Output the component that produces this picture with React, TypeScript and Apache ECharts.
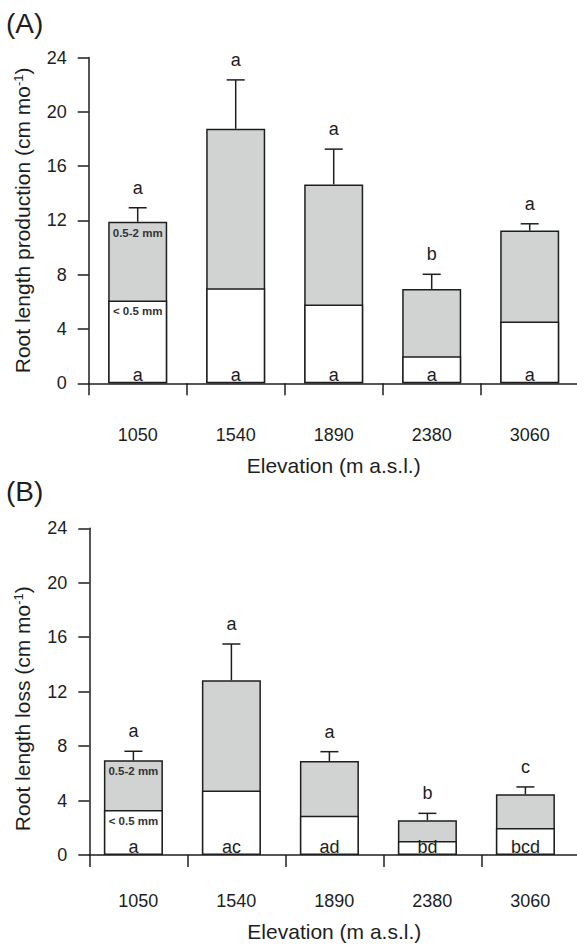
import React, { useEffect, useRef } from 'react';
import * as echarts from 'echarts';

const elevations = ['1050', '1540', '1890', '2380', '3060'];

// (A) Root length production (cm mo-1)
const prodFine = [6.1, 7.0, 5.8, 2.0, 4.55];
const prodCoarse = [5.8, 11.75, 8.85, 4.95, 6.7];
const prodSE = [1.03, 3.6, 2.6, 1.08, 0.5];
const prodTopLetters = ['a', 'a', 'a', 'b', 'a'];
const prodFineLetters = ['a', 'a', 'a', 'a', 'a'];

// (B) Root length loss (cm mo-1)
const lossFine = [3.31, 4.73, 2.89, 1.03, 1.98];
const lossCoarse = [3.65, 8.11, 4.02, 1.52, 2.48];
const lossSE = [0.66, 2.66, 0.68, 0.51, 0.54];
const lossTopLetters = ['a', 'a', 'a', 'b', 'c'];
const lossFineLetters = ['a', 'ac', 'ad', 'bd', 'bcd'];

const yMin = 0;
const yMax = 24;
const yInterval = 4;
const coarseLabel = '0.5-2 mm';
const fineLabel = '< 0.5 mm';
const xName = 'Elevation (m a.s.l.)';

const FONT = '"Liberation Sans", Arial, Helvetica, sans-serif';
const INK = '#1e1e1e';
const GREY = '#d1d3d2';

type Panel = {
  fine: number[];
  coarse: number[];
  se: number[];
  top: string[];
  bottom: string[];
  yName: string;
  grid: { left: number; top: number; width: number; height: number };
  shift: number;
  labelMargin: number;
  nameGap: number;
  yNamePad: number[];
};

const panels: Panel[] = [
  {
    fine: prodFine, coarse: prodCoarse, se: prodSE, top: prodTopLetters, bottom: prodFineLetters,
    yName: 'Root length production (cm mo',
    grid: { left: 88.7, top: 57.5, width: 490, height: 325.8 },
    shift: 0, labelMargin: 43, nameGap: 72, yNamePad: [0, 0, 0, 0],
  },
  {
    fine: lossFine, coarse: lossCoarse, se: lossSE, top: lossTopLetters, bottom: lossFineLetters,
    yName: 'Root length loss (cm mo',
    grid: { left: 89.3, top: 528.3, width: 490, height: 326.7 },
    shift: 0.05, labelMargin: 37, nameGap: 66, yNamePad: [0, 34, 0, 0],
  },
];

function buildOption() {
  const grids: any[] = [];
  const xAxes: any[] = [];
  const yAxes: any[] = [];
  const series: any[] = [];

  panels.forEach((p, pi) => {
    grids.push({ ...p.grid, containLabel: false, outerBoundsMode: 'none' });
    xAxes.push({
      type: 'category',
      gridIndex: pi,
      data: elevations,
      boundaryGap: true,
      position: 'bottom',
      axisLine: { show: true, onZero: false, lineStyle: { color: INK, width: 1.5 } },
      axisTick: { show: true, length: 12, inside: false, alignWithLabel: false, lineStyle: { color: INK, width: 1.5 } },
      axisLabel: { fontSize: 18, color: INK, margin: p.labelMargin, fontFamily: FONT },
      splitLine: { show: false },
      name: xName,
      nameLocation: 'middle',
      nameGap: p.nameGap,
      nameTextStyle: { fontSize: 21, color: INK, fontFamily: FONT },
    });
    xAxes.push({
      type: 'value',
      gridIndex: pi,
      show: false,
      min: -0.5 + p.shift,
      max: 4.5 + p.shift,
      axisLine: { onZero: false },
      splitLine: { show: false },
    });
    yAxes.push({
      type: 'value',
      gridIndex: pi,
      min: yMin,
      max: yMax,
      interval: yInterval,
      position: 'left',
      axisLine: { show: true, onZero: false, lineStyle: { color: INK, width: 1.5 } },
      axisTick: { show: true, length: 11, inside: false, lineStyle: { color: INK, width: 1.5 } },
      axisLabel: { fontSize: 18, color: INK, margin: 22, fontFamily: FONT },
      splitLine: { show: false },
      name: '{n|' + p.yName + '}{s|-1}{n|)}',
      nameLocation: 'middle',
      nameGap: 56,
      nameTextStyle: {
        fontSize: 21,
        color: INK,
        fontFamily: FONT,
        padding: p.yNamePad,
        rich: {
          n: { fontSize: 21, color: INK, fontFamily: FONT },
          s: { fontSize: 13, color: INK, fontFamily: FONT, verticalAlign: 'top' },
        },
      },
    });

    const xi = pi * 2 + 1;
    const totals = p.fine.map((f, i) => f + p.coarse[i]);
    const barLabel = (text: string) => ({
      show: false,
      position: 'insideTop',
      distance: 5,
      formatter: text,
      fontSize: 11.5,
      fontWeight: 'bold',
      color: '#333',
      fontFamily: FONT,
    });

    // whole bar (0.5-2 mm part on top of < 0.5 mm part)
    series.push({
      type: 'bar',
      xAxisIndex: xi,
      yAxisIndex: pi,
      barWidth: 59,
      barGap: '-100%',
      itemStyle: { color: GREY, borderColor: INK, borderWidth: 1.5 },
      label: barLabel(coarseLabel),
      data: totals.map((v, i) => (i === 0 ? { value: [i, v], label: { show: true } } : [i, v])),
      z: 2,
    });
    // < 0.5 mm part
    series.push({
      type: 'bar',
      xAxisIndex: xi,
      yAxisIndex: pi,
      barWidth: 59,
      barGap: '-100%',
      itemStyle: { color: '#ffffff', borderColor: INK, borderWidth: 1.5 },
      label: barLabel(fineLabel),
      data: p.fine.map((v, i) => (i === 0 ? { value: [i, v], label: { show: true } } : [i, v])),
      z: 3,
    });
    // error bars + significance letters above
    series.push({
      type: 'custom',
      xAxisIndex: xi,
      yAxisIndex: pi,
      z: 4,
      data: totals.map((t, i) => [i, t, t + p.se[i]]),
      encode: { x: 0, y: [1, 2] },
      renderItem: (params: any, api: any) => {
        const x = api.value(0);
        const p0 = api.coord([x, api.value(1)]);
        const p1 = api.coord([x, api.value(2)]);
        const ls = { stroke: INK, lineWidth: 1.5 };
        return {
          type: 'group',
          children: [
            { type: 'line', shape: { x1: p0[0], y1: p0[1], x2: p1[0], y2: p1[1] }, style: ls },
            { type: 'line', shape: { x1: p1[0] - 9, y1: p1[1], x2: p1[0] + 9, y2: p1[1] }, style: ls },
            {
              type: 'text',
              x: p1[0],
              y: p1[1] - 20,
              style: {
                text: p.top[params.dataIndex],
                fontSize: 18,
                fontFamily: FONT,
                fill: INK,
                align: 'center',
                verticalAlign: 'middle',
              },
            },
          ],
        };
      },
    });
    // letters at the base of the fine-root bars
    series.push({
      type: 'custom',
      xAxisIndex: xi,
      yAxisIndex: pi,
      z: 5,
      data: p.fine.map((_, i) => [i, 0]),
      encode: { x: 0, y: 1 },
      renderItem: (params: any, api: any) => {
        const c = api.coord([api.value(0), api.value(1)]);
        return {
          type: 'text',
          x: c[0],
          y: c[1] + 1,
          style: {
            text: p.bottom[params.dataIndex],
            fontSize: 18,
            fontFamily: FONT,
            fill: INK,
            align: 'center',
            verticalAlign: 'bottom',
          },
        };
      },
    });
  });

  return {
    animation: false,
    backgroundColor: '#ffffff',
    textStyle: { fontFamily: FONT },
    grid: grids,
    xAxis: xAxes,
    yAxis: yAxes,
    series,
    graphic: [
      { type: 'text', left: 6, top: 9, style: { text: '(A)', fontSize: 28, fontFamily: FONT, fill: INK } },
      { type: 'text', left: 6, top: 477, style: { text: '(B)', fontSize: 28, fontFamily: FONT, fill: INK } },
    ],
  };
}

export default function App() {
  const ref = useRef<HTMLDivElement>(null);
  useEffect(() => {
    if (!ref.current) return;
    const chart = echarts.init(ref.current, undefined, { renderer: 'svg' });
    chart.setOption(buildOption() as any);
    return () => chart.dispose();
  }, []);
  return (
    <div
      ref={ref}
      style={{ position: 'absolute', left: 0, top: 0, width: 577, height: 947, background: '#fff' }}
    />
  );
}
